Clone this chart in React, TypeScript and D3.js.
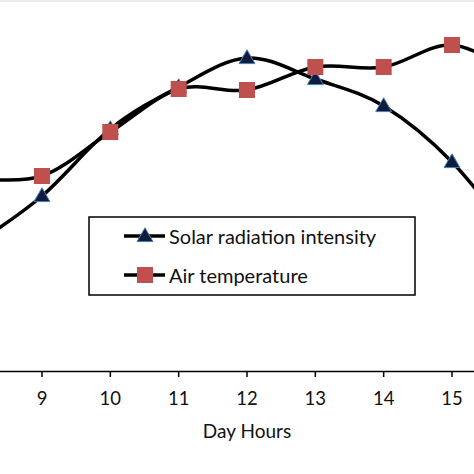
import React from "react";
import * as d3 from "d3";

const hours = [8, 9, 10, 11, 12, 13, 14, 15, 16];
const solarRadiation = [127, 176, 243, 285, 314, 293, 266, 210, 125];
const airTemperature = [194, 196, 240, 283, 282, 305, 305, 327, 296];
const tickHours = [9, 10, 11, 12, 13, 14, 15];
const seriesNames = ["Solar radiation intensity", "Air temperature"];
const xTitle = "Day Hours";

const W = 474;
const H = 474;
const FONT = "Lato, 'Open Sans', sans-serif";

export default function App() {
  const x = d3.scaleLinear().domain([9, 15]).range([42, 452]);
  const y = d3.scaleLinear().domain([0, 350]).range([372, 22]);
  const line = d3
    .line<number>()
    .x((_, i) => x(hours[i]))
    .y((d) => y(d))
    .curve(d3.curveCardinal.tension(0));

  const axisY = 371.5;
  const tri = d3.symbol().type(d3.symbolTriangle).size(110)();

  return (
    <svg
      width={W}
      height={H}
      style={{ position: "absolute", left: 0, top: 0, background: "#fff" }}
      fontFamily={FONT}
    >
      <rect x={0} y={0} width={W} height={2} fill="#ececec" />
      {/* axis */}
      <line x1={0} x2={W} y1={axisY} y2={axisY} stroke="#000" strokeWidth={1.5} />
      {tickHours.map((h) => (
        <g key={h} transform={`translate(${x(h)},0)`}>
          <line y1={axisY} y2={axisY + 5.5} stroke="#000" strokeWidth={1.5} />
          <text y={405} textAnchor="middle" fontSize={18.5} fill="#111">
            {h}
          </text>
        </g>
      ))}
      <text x={247} y={438} textAnchor="middle" fontSize={19} fill="#111">
        {xTitle}
      </text>

      {/* lines */}
      <path d={line(solarRadiation) || ""} fill="none" stroke="#000" strokeWidth={3.5} />
      <path d={line(airTemperature) || ""} fill="none" stroke="#000" strokeWidth={3.5} />
      {solarRadiation.map((v, i) => (
        <path
          key={"s" + i}
          d={tri || ""}
          transform={`translate(${x(hours[i])},${y(v) + 1})`}
          fill="#0f1c3c"
          stroke="#4a7ebb"
          strokeWidth={1}
        />
      ))}
      {airTemperature.map((v, i) => (
        <rect
          key={"t" + i}
          x={x(hours[i]) - 8}
          y={y(v) - 8}
          width={16}
          height={16}
          fill="#c0504d"
        />
      ))}

      {/* legend */}
      <rect x={89} y={217} width={326} height={78} fill="#fff" stroke="#000" strokeWidth={1.5} />
      <line x1={124} x2={165} y1={236} y2={236} stroke="#000" strokeWidth={3.5} />
      <path d={tri || ""} transform="translate(145,237)" fill="#0f1c3c" stroke="#4a7ebb" strokeWidth={1} />
      <text x={169} y={244} fontSize={20} fill="#111">
        {seriesNames[0]}
      </text>
      <line x1={124} x2={165} y1={275} y2={275} stroke="#000" strokeWidth={3.5} />
      <rect x={137} y={267} width={16} height={16} fill="#c0504d" />
      <text x={169} y={283} fontSize={20} fill="#111">
        {seriesNames[1]}
      </text>
    </svg>
  );
}
